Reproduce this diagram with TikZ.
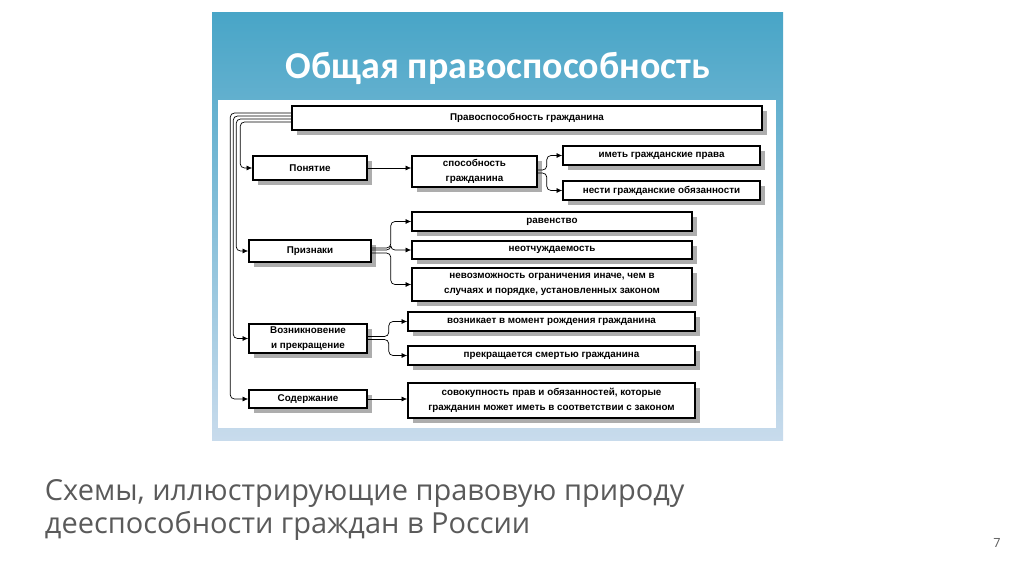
\documentclass[tikz,border=0pt]{standalone}
\usepackage{fontspec}
\setmainfont{Liberation Sans}
\newfontfamily\titlefont{Carlito}
\newfontfamily\capfont{Open Sans}
\usetikzlibrary{arrows.meta,calc,shadows}
\definecolor{panetop}{HTML}{48A5C7}
\definecolor{panebot}{HTML}{C8DBEC}
\definecolor{captext}{HTML}{5A5A5A}

\begin{document}
\begin{tikzpicture}[x=0.025cm, y=-0.025cm,
  sz/.style 2 args={minimum width=#1*0.025cm, minimum height=#2*0.025cm},
  box/.style={draw, line width=1.1pt, fill=white, align=center, inner sep=1pt,
    font=\fontsize{7}{10.5}\selectfont\bfseries,
    general shadow={shadow xshift=3.2pt, shadow yshift=-3.2pt, fill=black!32}},
  ar/.style={-{Latex[length=4pt,width=3.5pt]}, line width=0.5pt},
  bus/.style={ar, rounded corners=3pt}]
  % panel
  \useasboundingbox (0,0) rectangle (1024,574);
  \shade[top color=panetop, bottom color=panebot] (212,12) rectangle (783,440);
  \fill[white] (218,100) rectangle (776,428);
  \node[font=\titlefont\bfseries\fontsize{27}{30}\selectfont, text=white] (title) at (498,68) {Общая правоспособность};
  % boxes
  \node[box, sz={470}{24}] (ppg) at (527,118) {Правоспособность гражданина};
  \node[box, sz={114}{24}] (pon) at (310,168) {Понятие};
  \node[box, sz={125}{31}] (spos) at (474.5,171.5) {способность\\гражданина};
  \node[box, sz={197}{19}] (prava) at (661.5,155.5) {иметь гражданские права};
  \node[box, sz={197}{19}] (obyaz) at (661.5,190.5) {нести гражданские обязанности};
  \node[box, sz={122}{22}] (prz) at (310,251) {Признаки};
  \node[box, sz={280}{19}] (rav) at (552,221.5) {равенство};
  \node[box, sz={280}{18}] (neot) at (552,250) {неотчуждаемость};
  \node[box, sz={280}{33}] (nevoz) at (552,284.5) {невозможность ограничения иначе, чем в\\случаях и порядке, установленных законом};
  \node[box, sz={118}{29}] (voz) at (308,338.5) {Возникновение\\и прекращение};
  \node[box, sz={287}{19}] (rozhd) at (551.5,321.5) {возникает в момент рождения гражданина};
  \node[box, sz={287}{19}] (smert) at (551.5,355.5) {прекращается смертью гражданина};
  \node[box, sz={118}{18}] (sod) at (308,399) {Содержание};
  \node[box, sz={287}{35}] (sovok) at (551.5,400.5) {совокупность прав и обязанностей, которые\\гражданин может иметь в соответствии с законом};
  % left bus
  \draw[bus] ($(ppg.west)+(0,-5)$) -| ($(sod.west)+(-18,0)$) -- (sod.west);
  \draw[bus] ($(ppg.west)+(0,-2)$) -| ($(voz.west)+(-15,0)$) -- (voz.west);
  \draw[bus] ($(ppg.west)+(0,1)$) -| ($(prz.west)+(-12,0)$) -- (prz.west);
  \draw[bus] ($(ppg.west)+(0,4)$) -| ($(pon.west)+(-12,0)$) -- (pon.west);
  % branches
  \draw[ar] (pon.east) -- (pon.east -| spos.west);
  \draw[bus] ($(spos.east)+(0,-1.5)$) -- ++(9,0) |- (prava.west);
  \draw[bus] ($(spos.east)+(0,1.5)$) -- ++(9,0) |- (obyaz.west);
  \draw[bus] ($(prz.east)+(0,-3)$) -- ++(19,0) |- (rav.west);
  \draw[bus] ($(prz.east)+(0,-1)$) -- ++(19,0) |- (neot.west);
  \draw[bus] ($(prz.east)+(0,2)$) -- ++(19,0) |- (nevoz.west);
  \draw[bus] ($(voz.east)+(0,-2)$) -- ++(21,0) |- (rozhd.west);
  \draw[bus] ($(voz.east)+(0,1)$) -- ++(21,0) |- (smert.west);
  \draw[ar] (sod.east) -- (sod.east -| sovok.west);
  % caption
  \node[font=\capfont\fontsize{20.6}{24}\selectfont, text=captext, align=left, anchor=west] (cap) at (40,510) {Схемы, иллюстрирующие правовую природу\\дееспособности граждан в России};
  \node[font=\capfont\fontsize{9}{10}\selectfont, text=captext] (num) at (997,543) {7};
\end{tikzpicture}
\end{document}
